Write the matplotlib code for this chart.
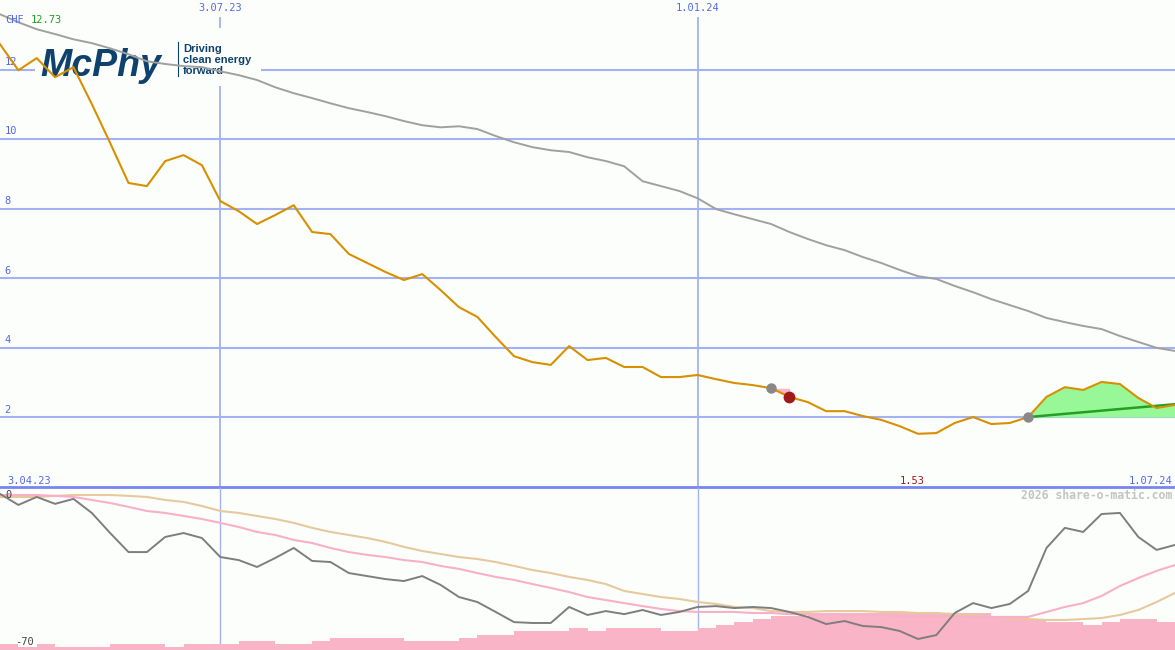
import matplotlib.pyplot as plt
from matplotlib.patches import Rectangle
from matplotlib.lines import Line2D

# weekly closing prices in CHF (3.04.23 .. 1.07.24)
price = [12.73, 11.98, 12.33, 11.78, 12.07, 11.01, 9.89, 8.74, 8.65, 9.37,
         9.54, 9.25, 8.22, 7.93, 7.56, 7.82, 8.10, 7.33, 7.27, 6.70,
         6.44, 6.18, 5.95, 6.12, 5.66, 5.17, 4.89, 4.31, 3.76, 3.59,
         3.51, 4.05, 3.65, 3.71, 3.45, 3.45, 3.16, 3.16, 3.22, 3.10,
         2.99, 2.93, 2.84, 2.59, 2.44, 2.18, 2.18, 2.04, 1.93, 1.75,
         1.53, 1.55, 1.84, 2.01, 1.81, 1.84, 2.01, 2.59, 2.87, 2.79,
         3.02, 2.96, 2.56, 2.27, 2.36]

# long moving average (grey)
ma_long = [13.59, 13.36, 13.16, 13.02, 12.87, 12.76, 12.61, 12.44, 12.24, 12.16,
           12.10, 12.07, 11.95, 11.84, 11.70, 11.49, 11.32, 11.18, 11.03, 10.89,
           10.78, 10.66, 10.52, 10.40, 10.34, 10.37, 10.29, 10.09, 9.91, 9.77,
           9.68, 9.63, 9.48, 9.37, 9.22, 8.79, 8.65, 8.51, 8.30, 7.99,
           7.84, 7.70, 7.56, 7.33, 7.13, 6.95, 6.81, 6.61, 6.44, 6.24,
           6.06, 5.98, 5.78, 5.60, 5.40, 5.23, 5.06, 4.86, 4.74, 4.63,
           4.54, 4.34, 4.17, 4.00, 3.91]

# lower panel: relative performance in % and its two averages
perf = [0.0, -5.1, -1.4, -4.6, -2.3, -8.8, -18.1, -26.9, -26.9, -19.9,
        -18.1, -20.4, -29.2, -30.6, -33.8, -29.6, -25.0, -31.0, -31.5, -36.6,
        -38.0, -39.4, -40.3, -38.0, -42.1, -47.7, -50.0, -54.6, -59.3, -59.7,
        -59.7, -52.3, -56.0, -54.2, -55.6, -53.7, -56.0, -54.6, -52.3, -51.9,
        -52.8, -52.3, -52.8, -54.6, -56.9, -60.2, -58.8, -61.1, -61.6, -63.4,
        -67.1, -65.3, -55.1, -50.5, -52.8, -50.9, -44.9, -25.0, -15.7, -17.6,
        -9.3, -8.8, -19.9, -25.9, -23.6]

perf_avg_fast = [-0.5, -0.5, -0.5, -0.9, -1.4, -2.8, -4.2, -6.0, -7.9, -8.8,
                 -10.2, -11.6, -13.4, -15.3, -17.6, -19.0, -21.3, -22.7, -25.0, -26.9,
                 -28.2, -29.2, -30.6, -31.5, -33.3, -34.7, -36.6, -38.4, -39.8, -41.7,
                 -43.5, -45.4, -47.7, -49.1, -50.5, -51.9, -53.2, -54.2, -54.6, -54.6,
                 -54.6, -55.1, -55.1, -55.6, -55.6, -55.6, -56.0, -56.0, -56.0, -56.5,
                 -56.5, -56.5, -56.5, -56.9, -56.9, -56.9, -56.9, -54.6, -52.3, -50.5,
                 -47.2, -42.6, -38.9, -35.6, -32.9]

perf_avg_slow = [-1.4, -1.4, -1.4, -0.9, -0.5, -0.5, -0.5, -0.9, -1.4, -2.8,
                 -3.7, -5.6, -7.9, -8.8, -10.2, -11.6, -13.4, -15.7, -17.6, -19.0,
                 -20.4, -22.2, -24.5, -26.4, -27.8, -29.2, -30.1, -31.5, -33.3, -35.2,
                 -36.6, -38.4, -39.8, -41.7, -44.9, -46.3, -47.7, -48.6, -50.0, -50.9,
                 -52.3, -52.8, -54.2, -54.6, -54.6, -54.2, -54.2, -54.2, -54.6, -54.6,
                 -55.1, -55.1, -55.6, -56.0, -56.9, -57.4, -57.9, -58.3, -58.3, -57.9,
                 -57.4, -56.0, -53.7, -50.0, -45.8]

# weekly volume (thousand shares)
volume = [24, 12, 24, 12, 12, 12, 24, 24, 24, 12,
          24, 24, 24, 36, 36, 24, 24, 36, 48, 48,
          48, 48, 36, 36, 36, 48, 60, 60, 76, 76,
          76, 88, 76, 88, 88, 88, 76, 76, 88, 100,
          112, 124, 136, 136, 144, 148, 148, 148, 148, 148,
          148, 148, 148, 148, 136, 136, 124, 112, 112, 100,
          112, 124, 124, 112]

grid_levels = [2, 4, 6, 8, 10, 12]
month_idx = [12, 38]
month_labels = ['3.07.23', '1.01.24']
start_label = '3.04.23'
end_label = '1.07.24'

sell_idx = 42       # grey dot -> red dot
buy_idx = 56        # grey dot, green zone
trend_end = 2.38

weeks = list(range(len(price)))

bg = '#fcfefc'
grid_c = '#a3b2f2'
label_c = '#5468ee'
logo_c = '#0e416e'
mono = 'DejaVu Sans Mono'

fig = plt.figure(figsize=(11.75, 6.5), dpi=100, facecolor=bg)
ax = fig.add_axes([0, 163 / 650, 1, 487 / 650])
ax.set_xlim(0, 64)
ax.set_ylim(0, 14)
ax.axis('off')

for g in grid_levels:
    ax.axhline(g, color=grid_c, lw=1.5, zorder=1)
    ax.text(0.004, g + 0.08, str(g), transform=ax.get_yaxis_transform(),
            fontsize=7.5, family=mono, color=label_c, va='bottom', ha='left', zorder=1)
ax.vlines(month_idx, 0, 13.5, color=grid_c, lw=1.3, zorder=1)
for m, lab in zip(month_idx, month_labels):
    ax.text(m, 13.78, lab, fontsize=7.5, family=mono, color=label_c, ha='center', va='center')
ax.axhline(0, color='#7686ee', lw=2, zorder=3, clip_on=False)

# logo with its own background box
ax.add_patch(Rectangle((35 / 1175, 1 - 86 / 487), 226 / 1175, 58 / 487,
                       transform=ax.transAxes, facecolor=bg, edgecolor='none', zorder=1.5))
ax.text(40 / 1175, 1 - 76 / 487, 'McPhy', transform=ax.transAxes, fontsize=27,
        family='Liberation Sans', weight='bold', style='italic', color=logo_c,
        va='baseline', ha='left', zorder=1.6)
ax.add_line(Line2D([178 / 1175, 178 / 1175], [1 - 42 / 487, 1 - 76 / 487],
                   transform=ax.transAxes, color=logo_c, lw=0.8, zorder=1.6))
for k, word in enumerate(['Driving', 'clean energy', 'forward']):
    ax.text(183 / 1175, 1 - (52 + 11 * k) / 487, word, transform=ax.transAxes,
            fontsize=8, family='Liberation Sans', weight='bold', color=logo_c,
            va='baseline', ha='left', zorder=1.6)

ax.text(5 / 1175, 1 - 20 / 487, 'CHF', transform=ax.transAxes, fontsize=7.5,
        family=mono, color=label_c, va='center', ha='left')
ax.text(31 / 1175, 1 - 20 / 487, f'{price[0]:.2f}', transform=ax.transAxes, fontsize=7.5,
        family=mono, color='#20a020', va='center', ha='left')

# signal zones
ax.fill_between(weeks[buy_idx:], price[buy_idx:], price[buy_idx],
                color='#98f898', lw=0, zorder=2)
ax.fill_between(weeks[sell_idx:sell_idx + 2], price[sell_idx:sell_idx + 2], price[sell_idx],
                color='#f8b4c8', lw=0, zorder=2)
ax.plot([buy_idx, weeks[-1]], [price[buy_idx], trend_end], color='#22a022', lw=1.8, zorder=3)

ax.plot(weeks, ma_long, color='#a0a0a0', lw=1.4, zorder=2.5)
ax.plot(weeks, price, color='#d69000', lw=1.5, zorder=3)

ax.plot(sell_idx, price[sell_idx], 'o', color='#888888', ms=7.5, mec='none', zorder=4)
ax.plot(sell_idx + 1, price[sell_idx + 1], 'o', color='#a01a1a', ms=8.5, mec='none', zorder=4)
ax.plot(buy_idx, price[buy_idx], 'o', color='#888888', ms=7.5, mec='none', zorder=4)

ax.text(7 / 1175, 0.17, start_label, transform=ax.get_yaxis_transform(), fontsize=7.5,
        family=mono, color=label_c, ha='left', va='center')
ax.text(1172 / 1175, 0.17, end_label, transform=ax.get_yaxis_transform(), fontsize=7.5,
        family=mono, color=label_c, ha='right', va='center')
low_i = price.index(min(price))
ax.text(low_i - 0.3, 0.17, f'{min(price):.2f}', fontsize=7.5, family=mono,
        color='#a01a1a', ha='center', va='center')

# lower panel: volume bars and performance lines
ax2 = fig.add_axes([0, 0, 1, 163 / 650])
ax2.set_xlim(0, 64)
ax2.set_ylim(0, 652)
ax2.axis('off')
ax2.vlines(month_idx, 0, 652, color=grid_c, lw=1, zorder=0.5)
ax2.bar(weeks[:-1], volume, width=1, align='edge', color='#f9b4c8', lw=0, zorder=1)

ind = ax2.twinx()
ind.set_xlim(0, 64)
ind.set_ylim(-72.2, 3.2)
ind.axis('off')
ind.plot(weeks, perf_avg_slow, color='#e6c99c', lw=1.5)
ind.plot(weeks, perf_avg_fast, color='#f8b0c8', lw=1.5)
ind.plot(weeks, perf, color='#7e7e7e', lw=1.4)
ind.text(5 / 1175, -0.3, '0', transform=ind.get_yaxis_transform(), fontsize=7.5,
         family=mono, color='#444444', ha='left', va='center')
ind.text(15 / 1175, -68.5, '-70', transform=ind.get_yaxis_transform(), fontsize=7.5,
         family=mono, color='#444444', ha='left', va='center')
ind.text(1172 / 1175, 0.945, '2026 share-o-matic.com', transform=ind.transAxes,
         fontsize=8.3, family=mono, weight='bold', color='#c4c4c4', ha='right', va='center')

fig.savefig('out.png', dpi=100, facecolor=bg)
